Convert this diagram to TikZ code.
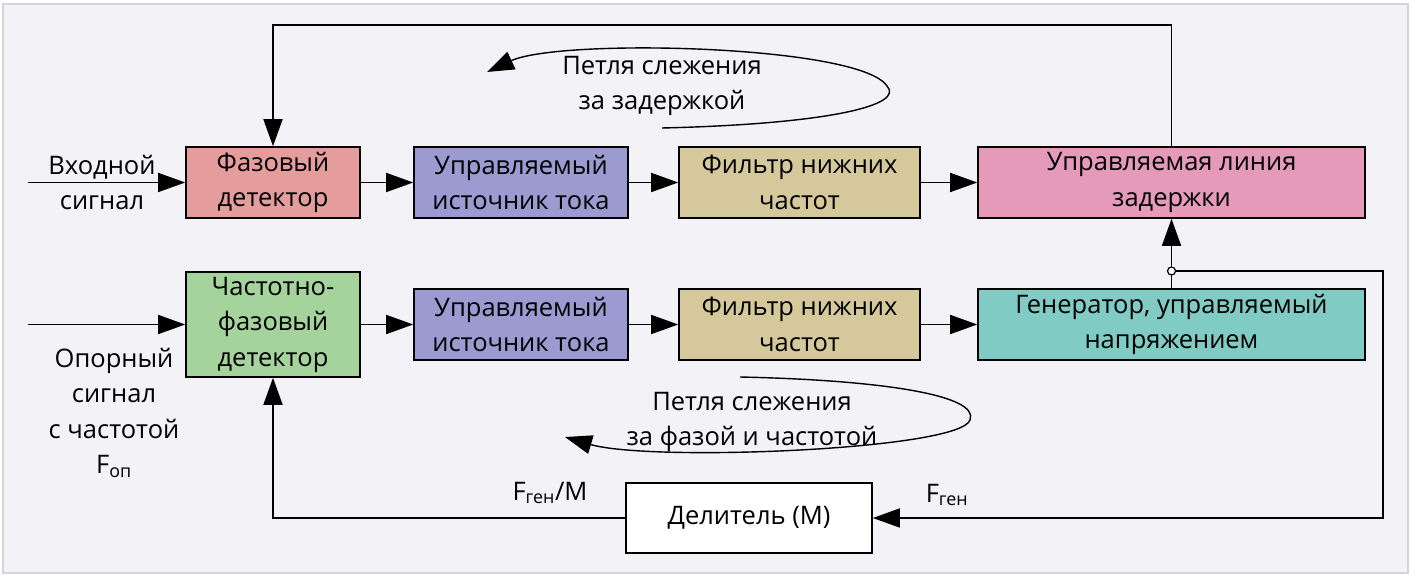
\documentclass[tikz,border=0pt]{standalone}
\usepackage{fontspec}
\setmainfont{Open Sans}
\usetikzlibrary{arrows.meta,%
		calc,%
		positioning,%
		shapes.geometric}
\definecolor{fon}{RGB}{242,242,247}
\definecolor{ramka}{RGB}{212,212,214}
\definecolor{cfd}{RGB}{229,156,156}
\definecolor{cuit}{RGB}{155,155,210}
\definecolor{cfnch}{RGB}{213,201,155}
\definecolor{culd}{RGB}{228,154,184}
\definecolor{cchfd}{RGB}{164,211,156}
\definecolor{cgun}{RGB}{128,203,195}
\tikzset{blok/.style={draw, line width=1.6pt, minimum height=71, align=center, inner sep=0pt},
	strelka/.style={line width=1.6pt, -{Triangle[length=27pt,width=19pt]}},
	linia/.style={line width=1.6pt},
	tekst/.style={align=center, inner sep=0pt}}

\begin{document}
\begin{tikzpicture}[x=1pt,y=-1pt,font=\fontsize{25.5}{35.5}\selectfont]
\useasboundingbox (0,0) rectangle (1412,577);
%fondo
\fill[white] (0,0) rectangle (1412,577);
\draw[ramka, fill=fon, line width=2pt] (3,4) rectangle (1408,573);

%i blocchi
\node[blok, fill=cfd, minimum width=174] (fd) at (273,182.5) {Фазовый\\детектор};
\node[blok, fill=cuit, minimum width=214] (uit1) at (521,182.5) {Управляемый\\источник тока};
\node[blok, fill=cfnch, minimum width=241] (fnch1) at (799.5,182.5) {Фильтр нижних\\частот};
\node[blok, fill=culd, minimum width=387] (uld) at (1171.5,182.5) {Управляемая линия\\задержки};

\node[blok, fill=cchfd, minimum width=174, minimum height=105] (chfd) at (273,324.5) {Частотно-\\фазовый\\детектор};
\node[blok, fill=cuit, minimum width=214] (uit2) at (521,324.5) {Управляемый\\источник тока};
\node[blok, fill=cfnch, minimum width=241] (fnch2) at (799.5,324.5) {Фильтр нижних\\частот};
\node[blok, fill=cgun, minimum width=387] (gun) at (1171.5,324.5) {Генератор, управляемый\\напряжением};

\node[blok, fill=white, minimum width=246, minimum height=70] (del) at (749,518) {Делитель (М)};

%le scritte
\node[tekst] (vhod) at (102,182.5) {Входной\\сигнал};
\node[tekst] (opor) at (114,413) {Опорный\\сигнал\\с частотой\\F\textsubscript{оп}};
\node[tekst] (fgenm) at (550,493) {F\textsubscript{ген}/M};
\node[tekst] (fgen) at (947,495) {F\textsubscript{ген}};
\node[tekst] (petlya1) at (662,86) {Петля слежения\\за задержкой};
\node[tekst] (petlya2) at (752,422) {Петля слежения\\за фазой и частотой};

%i collegamenti
\coordinate (in1) at (28,182.5);
\coordinate (in2) at (28,324.5);
\coordinate (verh) at (0,25);
\coordinate (pravo) at (1383,0);
\draw[strelka] (in1) -- (fd);
\draw[strelka] (fd) -- (uit1);
\draw[strelka] (uit1) -- (fnch1);
\draw[strelka] (fnch1) -- (uld);
\draw[strelka] (in2) -- (chfd);
\draw[strelka] (chfd) -- (uit2);
\draw[strelka] (uit2) -- (fnch2);
\draw[strelka] (fnch2) -- (gun);
\draw[strelka] (uld.north) -- (uld.north |- verh) -| (fd.north);
\draw[strelka] (gun.north) -- (uld.south);
\node[circle, draw, line width=1.2pt, fill=white, inner sep=0pt, minimum size=8] (uzel) at (1171.5,271) {};
\draw[strelka] (uzel) -- (uzel -| pravo) |- (del.east);
\draw[strelka] (del.west) -| (chfd.south);

%le frecce curve
\draw[line width=1.4pt, -{Triangle[length=27pt,width=19pt]}] (662,128) .. controls (830,124) and (905,105) .. (887,86) .. controls (860,45) and (560,38) .. (487,72);
\draw[line width=1.4pt, -{Triangle[length=27pt,width=19pt]}] (740,377) .. controls (880,380) and (980,395) .. (970,420) .. controls (960,450) and (650,462) .. (565,437);
\end{tikzpicture}
\end{document}
